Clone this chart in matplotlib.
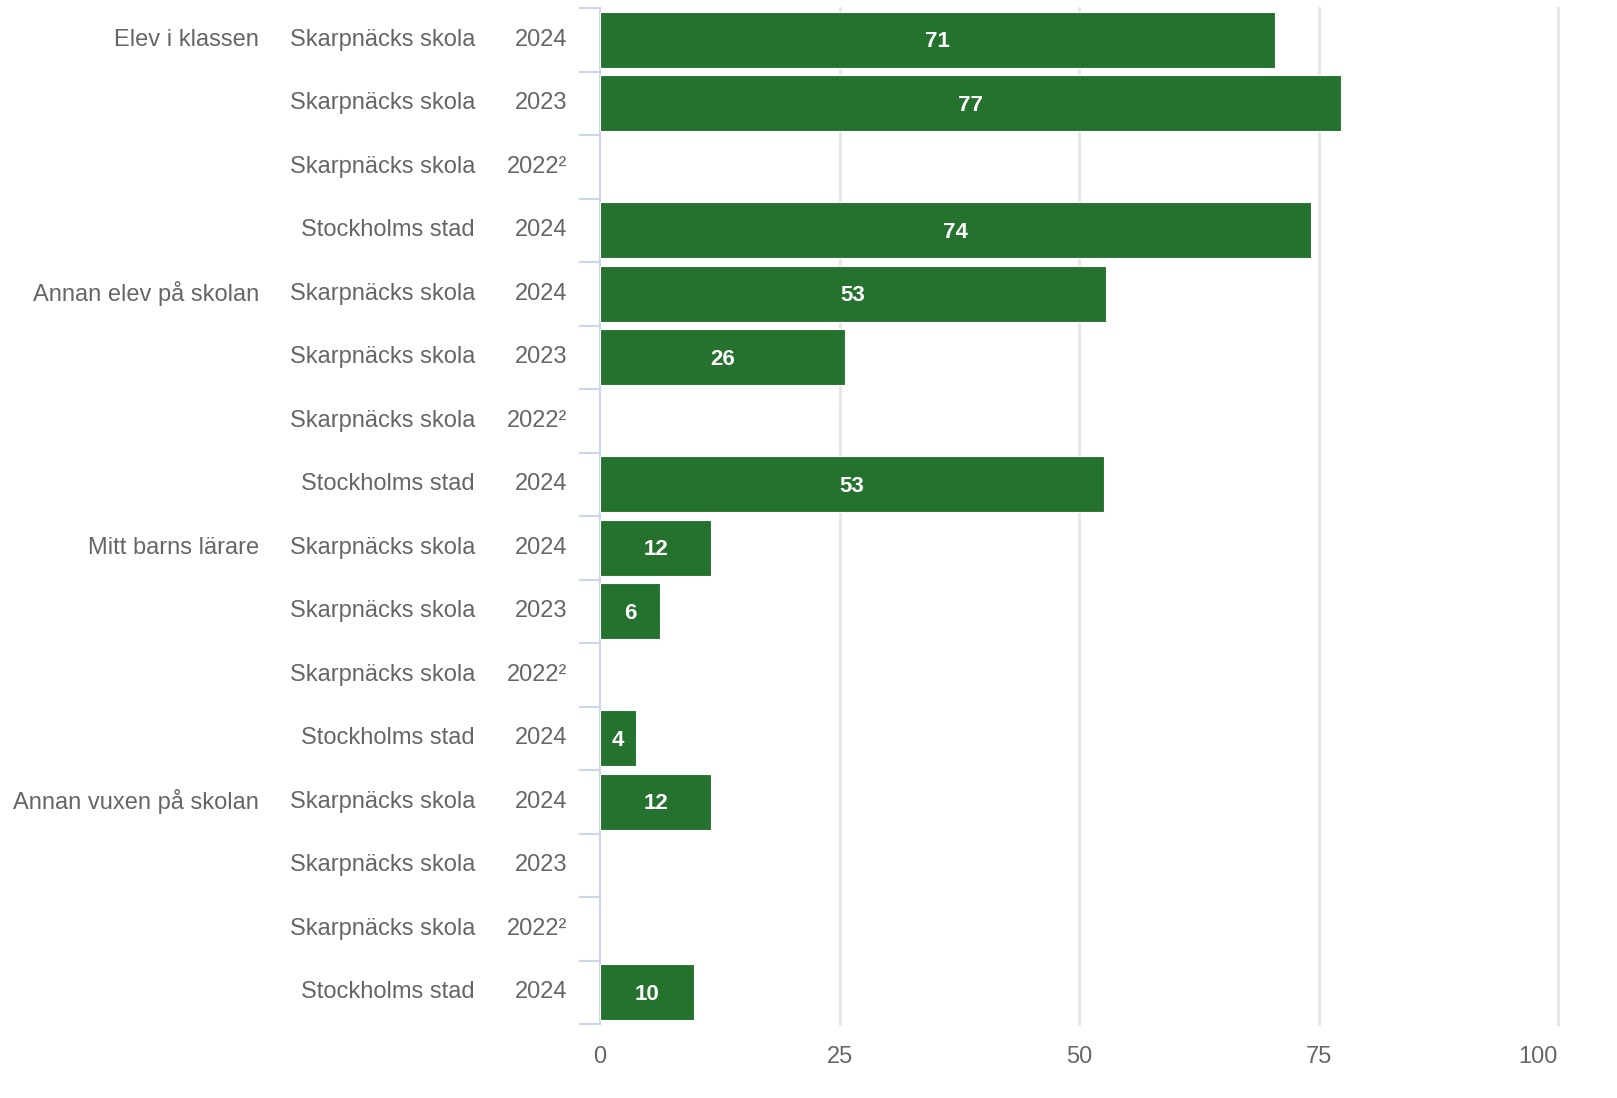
"""
Horizontal bar chart: groups x school x year
"""

import numpy as np
import matplotlib.pyplot as plt
import matplotlib.transforms as mtransforms

plt.rcParams['font.family'] = ['Liberation Sans', 'DejaVu Sans']

# data
groups = ["Elev i klassen", "Annan elev på skolan", "Mitt barns lärare", "Annan vuxen på skolan"]
units = ["Skarpnäcks skola", "Skarpnäcks skola", "Skarpnäcks skola", "Stockholms stad"]
years = ["2024", "2023", "2022²", "2024"]
values = [
    [70.5, 77.3, None, 74.2],
    [52.8, 25.6, None, 52.6],
    [11.6, 6.3, None, 3.8],
    [11.6, None, None, 9.8],
]
shown = [
    [71, 77, None, 74],
    [53, 26, None, 53],
    [12, 6, None, 4],
    [12, None, None, 10],
]
xticks = [0, 25, 50, 75, 100]

bar_color = '#25722e'
text_color = '#666666'

W, H = 1617, 1098
fig = plt.figure(figsize=(W / 100, H / 100), dpi=100)
ax = fig.add_axes([600 / W, 1 - 1024 / H, 958 / W, 1016 / H])

n_rows = len(groups) * len(units)
ax.set_xlim(0, 100)
ax.set_ylim(n_rows, 0)

# bars
row = 0
for gi, g in enumerate(groups):
    for si in range(len(units)):
        v = values[gi][si]
        yc = row + 0.5
        if v is not None:
            ax.barh(yc, v, height=0.88, color=bar_color, edgecolor='white', linewidth=0.8, zorder=3)
            ax.text(v / 2, yc + 0.03, str(shown[gi][si]), ha='center', va='center',
                    color='white', fontsize=16, fontweight='bold', zorder=4)
        row += 1

# row labels
trans = mtransforms.blended_transform_factory(fig.transFigure, ax.transData)
row = 0
for gi, g in enumerate(groups):
    for si in range(len(units)):
        yc = row + 0.5
        if si == 0:
            ax.text(259 / W, yc, g, transform=trans, ha='right', va='center',
                    color=text_color, fontsize=17)
        ax.text(475 / W, yc, units[si], transform=trans, ha='right', va='center',
                color=text_color, fontsize=17)
        ax.text(567 / W, yc, years[si], transform=trans, ha='right', va='center',
                color=text_color, fontsize=17)
        row += 1

# grid and axes
for x in xticks[1:]:
    ax.axvline(x, color='#e6e6e6', linewidth=2, zorder=1, clip_on=False)
for s in ['top', 'right', 'bottom']:
    ax.spines[s].set_visible(False)
ax.spines['left'].set_color('#ccd6eb')
ax.spines['left'].set_linewidth(1.5)

ax.set_yticks(np.arange(n_rows + 1))
ax.set_yticklabels([])
ax.tick_params(axis='y', length=15, width=1.5, color='#ccd6eb')

ax.set_xticks(xticks)
ax.set_xticklabels([str(t) for t in xticks])
ax.tick_params(axis='x', length=0, labelsize=17, labelcolor=text_color, pad=16)
ax.get_xticklabels()[-1].set_ha('right')

fig.savefig('out.png', dpi=100)
